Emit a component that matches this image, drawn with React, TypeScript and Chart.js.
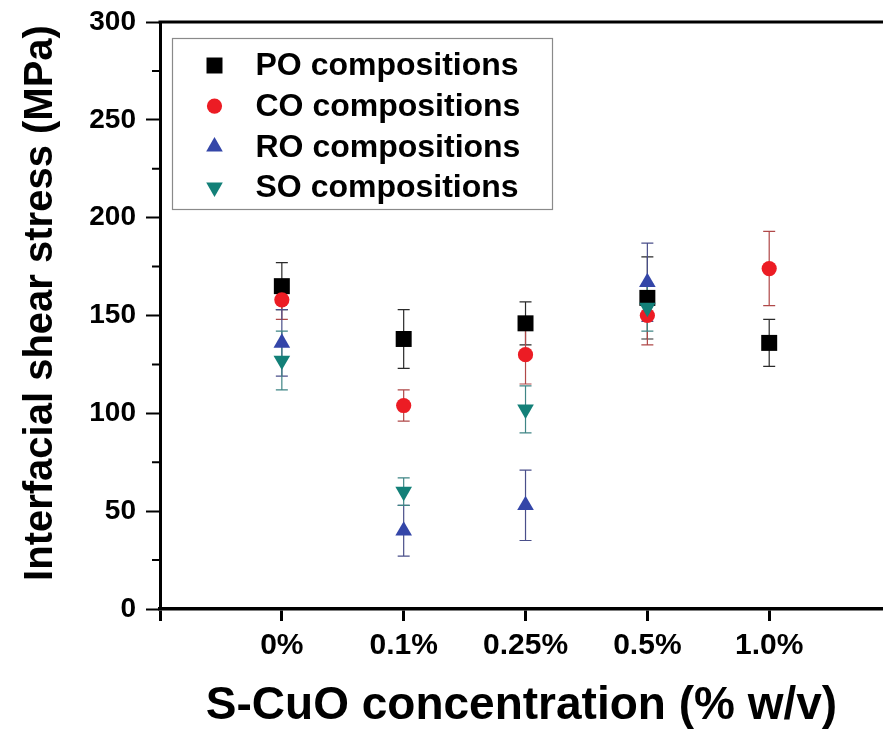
import React, { useEffect, useRef } from "react";
import { Chart, registerables } from "chart.js";

Chart.register(...registerables);

const categories = ["0%", "0.1%", "0.25%", "0.5%", "1.0%"];
const seriesLabels = ["PO compositions", "CO compositions", "RO compositions", "SO compositions"];
const poValues = [165, 138, 146, 159, 136];
const poErrors = [12, 15, 11, 21, 12];
const coValues = [158, 104, 130, 150, 174];
const coErrors = [10, 8, 15, 15, 19];
const roValues = [136, 40, 53, 167, null];
const roErrors = [17, 13, 18, 20, null];
const soValues = [127, 60, 102, 154, null];
const soErrors = [15, 7, 12, 12, null];
const yMin = 0;
const yMax = 300;
const yStep = 50;
const xTitle = "S-CuO concentration (% w/v)";
const yTitle = "Interfacial shear stress (MPa)";

const FONT = "'Liberation Sans', Arial, sans-serif";

function toPoints(values: (number | null)[]) {
  return values
    .map((v, i) => (v == null ? null : { x: i, y: v }))
    .filter((p) => p !== null);
}

function drawMarker(ctx: CanvasRenderingContext2D, style: string, rotation: number, r: number, x: number, y: number, color: string) {
  ctx.save();
  ctx.fillStyle = color;
  ctx.beginPath();
  if (style === "rect") {
    const s = Math.SQRT1_2 * r;
    ctx.rect(x - s, y - s, 2 * s, 2 * s);
  } else if (style === "circle") {
    ctx.arc(x, y, r, 0, Math.PI * 2);
  } else if (style === "triangle") {
    const rot = (rotation * Math.PI) / 180;
    for (let k = 0; k < 3; k++) {
      const a = rot + (k * 2 * Math.PI) / 3;
      const px = x + Math.sin(a) * r;
      const py = y - Math.cos(a) * r;
      if (k === 0) ctx.moveTo(px, py);
      else ctx.lineTo(px, py);
    }
    ctx.closePath();
  }
  ctx.fill();
  ctx.restore();
}

const errorBarPlugin = {
  id: "errorBars",
  beforeDatasetsDraw(chart: any) {
    const { ctx } = chart;
    const xs = chart.scales.x;
    const ys = chart.scales.y;
    chart.data.datasets.forEach((ds: any) => {
      ds.data.forEach((p: any) => {
        const e = ds.errors[p.x];
        if (e == null) return;
        const px = xs.getPixelForValue(p.x);
        const top = ys.getPixelForValue(p.y + e);
        const bot = ys.getPixelForValue(p.y - e);
        ctx.save();
        ctx.strokeStyle = ds.errorColor;
        ctx.lineWidth = 1.2;
        ctx.beginPath();
        ctx.moveTo(px, top);
        ctx.lineTo(px, bot);
        ctx.moveTo(px - 6, top);
        ctx.lineTo(px + 6, top);
        ctx.moveTo(px - 6, bot);
        ctx.lineTo(px + 6, bot);
        ctx.stroke();
        ctx.restore();
      });
    });
  },
};

const framePlugin = {
  id: "frameAndMinor",
  afterDraw(chart: any) {
    const { ctx, chartArea } = chart;
    const ys = chart.scales.y;
    ctx.save();
    ctx.strokeStyle = "#000";
    ctx.lineWidth = 3;
    ctx.beginPath();
    ctx.moveTo(chartArea.left - 1.5, chartArea.top);
    ctx.lineTo(chart.width, chartArea.top);
    ctx.stroke();
    ctx.lineWidth = 2;
    ctx.beginPath();
    for (let v = yMin + yStep / 2; v < yMax; v += yStep) {
      const py = ys.getPixelForValue(v);
      ctx.moveTo(chartArea.left - 8, py);
      ctx.lineTo(chartArea.left, py);
    }
    ctx.stroke();
    // y-axis title
    ctx.fillStyle = "#000";
    ctx.font = `bold 40px ${FONT}`;
    ctx.textAlign = "center";
    ctx.textBaseline = "middle";
    ctx.translate(41, chartArea.top + 281);
    ctx.rotate(-Math.PI / 2);
    ctx.fillText(yTitle, 0, 0);
    ctx.restore();
  },
};

const legendPlugin = {
  id: "boxLegend",
  afterDraw(chart: any) {
    const { ctx, chartArea } = chart;
    const bx = chartArea.left + 12.5;
    const by = chartArea.top + 16.5;
    const bw = 380;
    const bh = 171;
    ctx.save();
    ctx.fillStyle = "#fff";
    ctx.fillRect(bx, by, bw, bh);
    ctx.strokeStyle = "#8a8a8a";
    ctx.lineWidth = 1.2;
    ctx.strokeRect(bx, by, bw, bh);
    ctx.font = `bold 32px ${FONT}`;
    ctx.textBaseline = "middle";
    ctx.textAlign = "left";
    chart.data.datasets.forEach((ds: any, i: number) => {
      const cy = by + 27 + i * 40.6;
      drawMarker(ctx, ds.pointStyle, ds.rotation || 0, ds.pointRadius, bx + 42, cy, ds.backgroundColor);
      ctx.fillStyle = "#000";
      ctx.fillText(ds.label, bx + 83, cy + 1);
    });
    ctx.restore();
  },
};

export default function App() {
  const canvasRef = useRef<HTMLCanvasElement | null>(null);

  useEffect(() => {
    const canvas = canvasRef.current;
    if (!canvas) return;
    const chart = new Chart(canvas, {
      type: "scatter",
      data: {
        datasets: [
          {
            label: seriesLabels[0],
            data: toPoints(poValues),
            errors: poErrors,
            errorColor: "#2a2a2a",
            pointStyle: "rect",
            pointRadius: 11.3,
            backgroundColor: "#000000",
            borderWidth: 0,
            order: 4,
          },
          {
            label: seriesLabels[1],
            data: toPoints(coValues),
            errors: coErrors,
            errorColor: "#b04848",
            pointStyle: "circle",
            pointRadius: 7.6,
            backgroundColor: "#ec1c24",
            borderWidth: 0,
            order: 3,
          },
          {
            label: seriesLabels[2],
            data: toPoints(roValues),
            errors: roErrors,
            errorColor: "#4a4f8a",
            pointStyle: "triangle",
            pointRadius: 9.6,
            backgroundColor: "#3446a8",
            borderWidth: 0,
            order: 2,
          },
          {
            label: seriesLabels[3],
            data: toPoints(soValues),
            errors: soErrors,
            errorColor: "#3f8585",
            pointStyle: "triangle",
            rotation: 180,
            pointRadius: 9.6,
            backgroundColor: "#138078",
            borderWidth: 0,
            order: 1,
          },
        ] as any,
      },
      options: {
        animation: false,
        responsive: true,
        maintainAspectRatio: false,
        layout: { autoPadding: false, padding: { top: 22, left: 0, right: 0, bottom: 0 } },
        plugins: { legend: { display: false }, tooltip: { enabled: false } },
        events: [],
        scales: {
          x: {
            type: "linear",
            min: -1,
            max: 4.934,
            grid: {
              drawOnChartArea: false,
              drawTicks: true,
              tickLength: 12,
              tickWidth: 3,
              tickColor: "#000",
            },
            border: { color: "#000", width: 3.5 },
            ticks: {
              autoSkip: false,
              maxRotation: 0,
              padding: 7,
              color: "#000",
              font: { family: FONT, size: 30, weight: "bold" },
              callback: (v: any) => (Number.isInteger(v) && v >= 0 && v < categories.length ? categories[v] : ""),
            },
            afterBuildTicks: (scale: any) => {
              scale.ticks = [-1, ...categories.map((_, i) => i)].map((v) => ({ value: v }));
            },
            title: {
              display: true,
              text: xTitle,
              color: "#000",
              font: { family: FONT, size: 46, weight: "bold" },
              padding: { top: 0, bottom: 0 },
            },
            afterFit: (scale: any) => {
              scale.height = 125;
              scale.paddingLeft = 0;
              scale.paddingRight = 0;
            },
          },
          y: {
            type: "linear",
            min: yMin,
            max: yMax,
            grid: {
              drawOnChartArea: false,
              drawTicks: true,
              tickLength: 14,
              tickWidth: 2,
              tickColor: "#000",
            },
            border: { color: "#000", width: 3 },
            ticks: {
              stepSize: yStep,
              padding: 10,
              color: "#000",
              font: { family: FONT, size: 28, weight: "bold" },
            },
            title: { display: false, text: yTitle },
            afterFit: (scale: any) => {
              scale.width = 160;
              scale.paddingTop = 0;
              scale.paddingBottom = 0;
            },
          },
        },
      } as any,
      plugins: [errorBarPlugin, framePlugin, legendPlugin],
    });
    return () => chart.destroy();
  }, []);

  return (
    <div style={{ position: "fixed", left: 0, top: 0, width: 883, height: 734, background: "#fff" }}>
      <canvas ref={canvasRef} />
    </div>
  );
}
